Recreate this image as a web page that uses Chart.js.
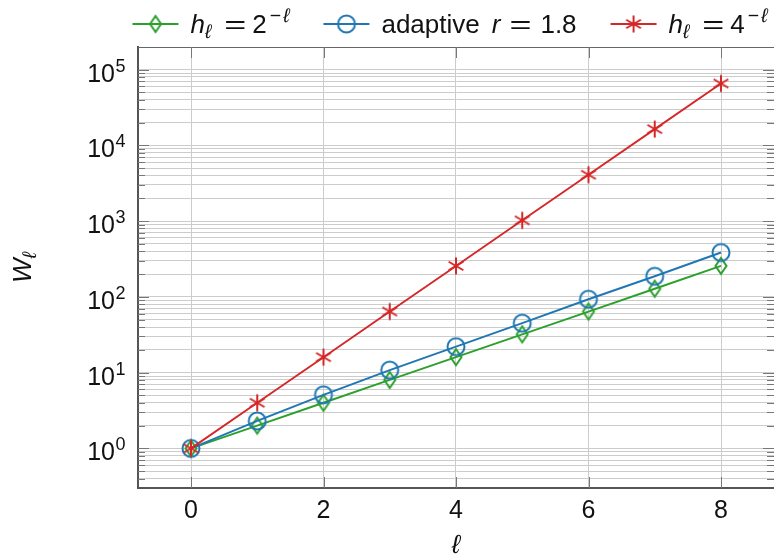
<!DOCTYPE html>
<html><head><meta charset="utf-8">
<script src="https://cdn.jsdelivr.net/npm/chart.js@4"></script>
<style>html,body{margin:0;padding:0;background:#fff}canvas{display:block}</style>
</head><body>
<canvas id="c" width="774" height="558"></canvas>
<script>
// ---- data ----
const levels = [0, 1, 2, 3, 4, 5, 6, 7, 8];
const uniformHalf = [1, 2, 4, 8, 16, 32, 64, 128, 256];
const adaptive = [1, 2.3, 5.1, 10.8, 22, 45, 93, 187, 385];
const uniformQuarter = [1, 4, 16, 64, 256, 1024, 4096, 16384, 65536];
const xTicks = [0, 2, 4, 6, 8];
const yDecades = [0, 1, 2, 3, 4, 5];
const seriesLabels = ['hℓ = 2⁻ˡ', 'adaptive r = 1.8', 'hℓ = 4⁻ˡ'];

const COLORS = { green: '#2ca02c', blue: '#1f77b4', red: '#d62728' };
const FONT = '"Liberation Sans", Arial, sans-serif';
const TXT = '#111';

function markerCanvas(kind, color) {
  const s = 26, c = document.createElement('canvas');
  c.width = s; c.height = s;
  const g = c.getContext('2d');
  g.strokeStyle = color; g.lineWidth = 2; const m = s / 2;
  g.beginPath();
  if (kind === 'diamond') {
    g.moveTo(m, m - 8); g.lineTo(m + 5.5, m); g.lineTo(m, m + 8); g.lineTo(m - 5.5, m); g.closePath();
  } else if (kind === 'circle') {
    g.arc(m, m, 8.5, 0, 2 * Math.PI);
  } else {
    for (let k = 0; k < 3; k++) {
      const a = Math.PI / 2 + k * Math.PI / 3;
      g.moveTo(m + 8.5 * Math.cos(a), m + 8.5 * Math.sin(a));
      g.lineTo(m - 8.5 * Math.cos(a), m - 8.5 * Math.sin(a));
    }
  }
  g.stroke();
  return c;
}
const markers = {
  green: markerCanvas('diamond', COLORS.green),
  blue: markerCanvas('circle', COLORS.blue),
  red: markerCanvas('star', COLORS.red)
};

function pts(arr) { return levels.map((x, i) => ({ x: x, y: arr[i] })); }

// legend text pieces (g = gap before piece in px, sx = horizontal stretch)
const legendPieces = [
  [{ t: 'h', it: 1 }, { t: 'ℓ', it: 1, sub: 1 }, { t: '=', g: 13, sx: 1.45 }, { t: '2', g: 6 },
   { t: '−', sup: 1, g: 3 }, { t: 'ℓ', it: 1, sup: 1, g: 2 }],
  [{ t: 'adaptive' }, { t: 'r', it: 1, g: 12 }, { t: '=', g: 9, sx: 1.45 }, { t: '1.8', g: 9 }],
  [{ t: 'h', it: 1 }, { t: 'ℓ', it: 1, sub: 1 }, { t: '=', g: 13, sx: 1.45 }, { t: '4', g: 6 },
   { t: '−', sup: 1, g: 3 }, { t: 'ℓ', it: 1, sup: 1, g: 2 }]
];
const legendKeys = ['green', 'blue', 'red'];

function pieceFont(p, size) {
  const s = (p.sub || p.sup) ? size * 0.75 : size;
  return (p.it ? 'italic ' : '') + s + 'px ' + FONT;
}
function pieceW(ctx, p, size) {
  ctx.font = pieceFont(p, size);
  return (p.g || 0) + ctx.measureText(p.t).width * (p.sx || 1);
}
function piecesWidth(ctx, pieces, size) {
  let w = 0;
  for (const p of pieces) w += pieceW(ctx, p, size);
  return w;
}
function drawPieces(ctx, pieces, x, y, size) {
  for (const p of pieces) {
    x += (p.g || 0);
    ctx.font = pieceFont(p, size);
    let dy = 0;
    if (p.sub) dy = 5;
    if (p.sup) dy = -11;
    const w = ctx.measureText(p.t).width * (p.sx || 1);
    if (p.sx) {
      ctx.save(); ctx.translate(x, y + dy); ctx.scale(p.sx, 1); ctx.fillText(p.t, 0, 0); ctx.restore();
    } else {
      ctx.fillText(p.t, x, y + dy);
    }
    x += w;
  }
  return x;
}

const decor = {
  id: 'decor',
  afterDraw(chart) {
    const ctx = chart.ctx, a = chart.chartArea;
    const xs = chart.scales.x, ys = chart.scales.y;
    ctx.save();
    // top border
    ctx.strokeStyle = '#666'; ctx.lineWidth = 1;
    ctx.beginPath(); ctx.moveTo(a.left, a.top + 0.5); ctx.lineTo(a.right, a.top + 0.5); ctx.stroke();
    // inward ticks
    ctx.strokeStyle = '#777'; ctx.lineWidth = 1;
    ctx.beginPath();
    for (const t of ys.ticks) {
      const py = Math.round(ys.getPixelForValue(t.value)) + 0.5;
      const major = Math.abs(Math.log10(t.value) - Math.round(Math.log10(t.value))) < 1e-9;
      const L = major ? 11 : 7;
      ctx.moveTo(a.left, py); ctx.lineTo(a.left + L, py);
      ctx.moveTo(a.right, py); ctx.lineTo(a.right - L, py);
    }
    for (const v of xTicks) {
      const px = Math.round(xs.getPixelForValue(v)) + 0.5;
      ctx.moveTo(px, a.bottom); ctx.lineTo(px, a.bottom - 11);
      ctx.moveTo(px, a.top); ctx.lineTo(px, a.top + 11);
    }
    ctx.stroke();

    // y tick labels 10^k
    ctx.fillStyle = TXT; ctx.textBaseline = 'alphabetic'; ctx.textAlign = 'left';
    for (const k of yDecades) {
      const py = ys.getPixelForValue(Math.pow(10, k));
      ctx.font = '25px ' + FONT;
      const bw = ctx.measureText('10').width;
      ctx.font = '18px ' + FONT;
      const sw = ctx.measureText(String(k)).width;
      const x0 = 125 - bw - sw;
      ctx.font = '25px ' + FONT;
      ctx.fillText('10', x0, py + 12);
      ctx.font = '18px ' + FONT;
      ctx.fillText(String(k), x0 + bw + 0.5, py + 2);
    }

    // y axis title W_ℓ
    ctx.save();
    ctx.translate(31, (a.top + a.bottom) / 2);
    ctx.rotate(-Math.PI / 2);
    const tp = [{ t: 'W', it: 1 }, { t: 'ℓ', it: 1, sub: 1 }];
    const tw = piecesWidth(ctx, tp, 26);
    drawPieces(ctx, tp, -tw / 2, 0, 26);
    ctx.restore();

    // legend
    const size = 26, lineLen = 46, gapLT = 12, gapItems = 34;
    let total = 0;
    const widths = legendPieces.map(p => piecesWidth(ctx, p, size));
    widths.forEach((w, i) => { total += lineLen + gapLT + w + (i < widths.length - 1 ? gapItems : 0); });
    let x = 450 - total / 2;
    const my = 24, by = 33;
    legendPieces.forEach((pieces, i) => {
      const col = COLORS[legendKeys[i]];
      ctx.strokeStyle = col; ctx.lineWidth = 1.8;
      ctx.beginPath(); ctx.moveTo(x, my); ctx.lineTo(x + lineLen, my); ctx.stroke();
      const m = markers[legendKeys[i]];
      ctx.drawImage(m, x + lineLen / 2 - m.width / 2, my - m.height / 2);
      x += lineLen + gapLT;
      ctx.fillStyle = TXT;
      x = drawPieces(ctx, pieces, x, by, size);
      x += gapItems;
    });
    ctx.restore();
  }
};

function yTicksAll(min, max) {
  const out = [];
  for (let k = -1; k <= 6; k++) {
    for (let m = 1; m <= 9; m++) {
      const v = m * Math.pow(10, k);
      if (v >= min && v <= max) out.push({ value: v });
    }
  }
  return out;
}

const YMIN = 0.33, YMAX = 1.986e5;

new Chart(document.getElementById('c'), {
  type: 'line',
  data: {
    datasets: [
      { label: seriesLabels[0], data: pts(uniformHalf), borderColor: COLORS.green, backgroundColor: COLORS.green,
        pointStyle: markers.green, order: 3 },
      { label: seriesLabels[1], data: pts(adaptive), borderColor: COLORS.blue, backgroundColor: COLORS.blue,
        pointStyle: markers.blue, order: 2 },
      { label: seriesLabels[2], data: pts(uniformQuarter), borderColor: COLORS.red, backgroundColor: COLORS.red,
        pointStyle: markers.red, order: 1 }
    ].map(d => Object.assign(d, { borderWidth: 1.9, fill: false, tension: 0, pointRadius: 8, clip: false }))
  },
  options: {
    responsive: false,
    animation: false,
    devicePixelRatio: 1,
    layout: { autoPadding: false, padding: { top: 47, left: 0, right: 0, bottom: 0 } },
    plugins: { legend: { display: false }, tooltip: { enabled: false } },
    scales: {
      x: {
        type: 'linear', min: -0.8, max: 8.8,
        afterBuildTicks: s => { s.ticks = xTicks.map(v => ({ value: v })); },
        afterFit: s => { s.height = 70; s.paddingLeft = 0; s.paddingRight = 0; },
        grid: { color: '#cccccc', lineWidth: 1, drawTicks: false },
        border: { display: true, color: '#555', width: 2 },
        ticks: { font: { family: FONT, size: 25 }, color: TXT, padding: 8, maxRotation: 0, autoSkip: false,
                 callback: v => String(v) },
        title: { display: true, text: 'ℓ', font: { family: FONT, size: 26, style: 'italic' }, color: TXT,
                 padding: { top: 0, bottom: -3 } }
      },
      y: {
        type: 'logarithmic', min: YMIN, max: YMAX,
        afterBuildTicks: s => { s.ticks = yTicksAll(YMIN, YMAX); },
        afterFit: s => { s.width = 138; s.paddingTop = 0; s.paddingBottom = 0; },
        grid: { color: '#cccccc', lineWidth: 1, drawTicks: false },
        border: { display: true, color: '#555', width: 2 },
        ticks: { display: false, autoSkip: false }
      }
    }
  },
  plugins: [decor]
});
</script>
</body></html>
